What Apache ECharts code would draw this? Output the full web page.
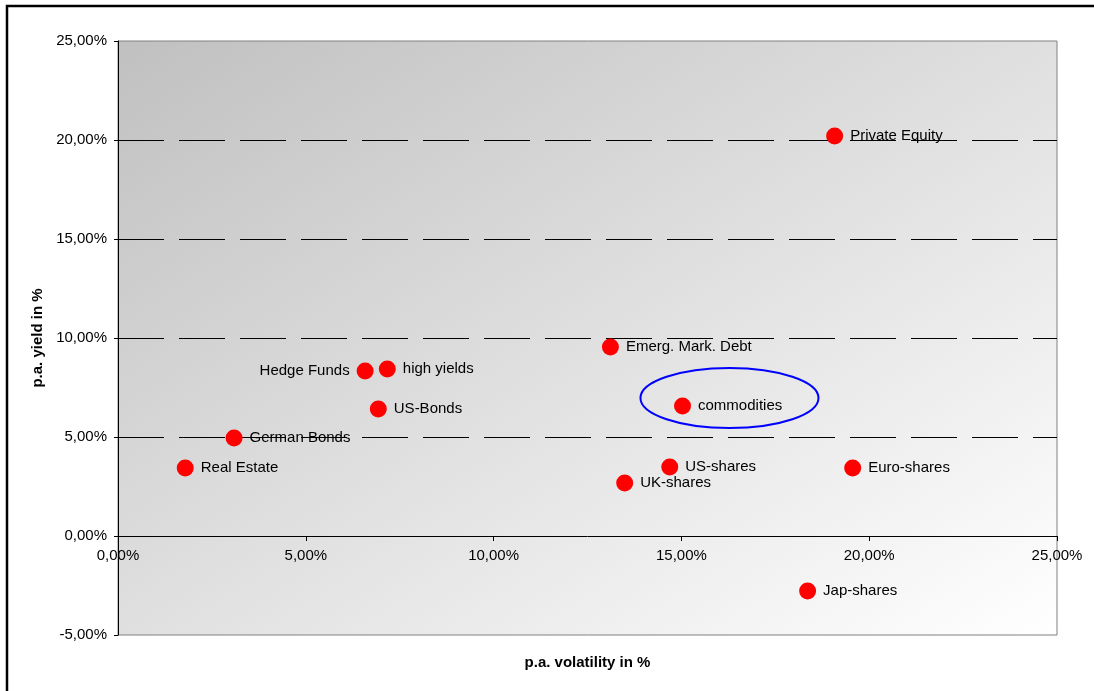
<!DOCTYPE html>
<html>
<head>
<meta charset="utf-8">
<script src="https://cdn.jsdelivr.net/npm/echarts@6/dist/echarts.min.js"></script>
<style>
html,body{margin:0;padding:0;background:#fff;}
#chart{width:1094px;height:691px;}
</style>
</head>
<body>
<div id="chart"></div>
<script>
// Data (percent units)
const names = ['Private Equity','Emerg. Mark. Debt','Hedge Funds','high yields','US-Bonds','commodities','German Bonds','Real Estate','US-shares','UK-shares','Euro-shares','Jap-shares'];
const volatility = [19.08, 13.11, 6.58, 7.17, 6.93, 15.03, 3.09, 1.79, 14.69, 13.49, 19.56, 18.36];
const yields = [20.2, 9.55, 8.33, 8.43, 6.41, 6.57, 4.95, 3.43, 3.48, 2.68, 3.43, -2.78];
const labelLeft = ['Hedge Funds'];
const xTicks = [0, 5, 10, 15, 20, 25];
const yTicks = [-5, 0, 5, 10, 15, 20, 25];
const gridLevels = [5, 10, 15, 20];
// Highlight ellipse around commodities (data units)
const ellipseCenter = [16.28, 6.97];
const ellipseRadius = [2.37, 1.52];

const fmt = v => v.toFixed(2).replace('.', ',') + '%';
const FONT = 'Liberation Sans, Arial, sans-serif';

const W = 1094, H = 691;
const G = { left: 118, top: 41, right: 37, bottom: 56 };
const gw = W - G.left - G.right, gh = H - G.top - G.bottom;
// gradient whose iso-lines run parallel to the anti-diagonal of the plot box
const gx2 = 2 * gh * gh / (gh * gh + gw * gw);
const gy2 = 2 * gw * gw / (gh * gh + gw * gw);

const chart = echarts.init(document.getElementById('chart'));
const points = names.map((n, i) => ({
  name: n,
  value: [volatility[i], yields[i]],
  label: { position: labelLeft.includes(n) ? 'left' : 'right' }
}));

chart.setOption({
  animation: false,
  backgroundColor: '#ffffff',
  grid: {
    left: G.left, top: G.top, right: G.right, bottom: G.bottom,
    containLabel: false,
    outerBoundsMode: 'none',
    show: true,
    borderColor: '#808080',
    borderWidth: 1,
    backgroundColor: {
      type: 'linear', x: 0, y: 0, x2: gx2, y2: gy2,
      colorStops: [
        { offset: 0, color: '#c0c0c0' },
        { offset: 1, color: '#ffffff' }
      ]
    }
  },
  xAxis: {
    type: 'value', min: xTicks[0], max: xTicks[xTicks.length - 1], interval: 5,
    position: 'bottom',
    offset: 0,
    axisLine: { onZero: false, lineStyle: { color: '#000', width: 1 } },
    axisTick: { show: true, length: 5, lineStyle: { color: '#000' } },
    axisLabel: { formatter: fmt, color: '#000', fontSize: 15, fontFamily: FONT, margin: 12 },
    splitLine: { show: false },
    name: 'p.a. volatility in %',
    nameLocation: 'middle',
    nameGap: 119,
    nameTextStyle: { color: '#000', fontSize: 15, fontWeight: 'bold', fontFamily: FONT }
  },
  yAxis: {
    type: 'value', min: yTicks[0], max: yTicks[yTicks.length - 1], interval: 5,
    axisLine: { show: true, onZero: false, lineStyle: { color: '#000', width: 1 } },
    axisTick: { show: true, length: 4, lineStyle: { color: '#000' } },
    axisLabel: { formatter: fmt, color: '#000', fontSize: 15, fontFamily: FONT, margin: 11 },
    splitLine: { show: false },
    name: 'p.a. yield in %',
    nameLocation: 'middle',
    nameGap: 68,
    nameRotate: 90,
    nameTextStyle: { color: '#000', fontSize: 15, fontWeight: 'bold', fontFamily: FONT }
  },
  series: [
    {
      type: 'scatter',
      data: points,
      symbol: 'circle',
      symbolSize: 17,
      itemStyle: { color: '#ff0000', opacity: 1 },
      z: 5,
      label: {
        show: true,
        formatter: p => p.name,
        color: '#000',
        fontSize: 15,
        fontFamily: FONT,
        distance: 7
      },
      markLine: {
        silent: true,
        symbol: 'none',
        label: { show: false },
        lineStyle: { color: '#000', type: [46, 15], width: 1 },
        data: gridLevels.map(v => ({ yAxis: v })),
        z: 1
      }
    }
  ]
});

function finish() {
  // move the x axis (line, ticks, labels) up to the zero line
  const zeroY = chart.convertToPixel({ gridIndex: 0 }, [0, 0])[1];
  const bottomY = chart.convertToPixel({ gridIndex: 0 }, [0, yTicks[0]])[1];
  chart.setOption({ xAxis: { offset: -(bottomY - zeroY) } });

  const c = chart.convertToPixel({ gridIndex: 0 }, ellipseCenter);
  const e = chart.convertToPixel({ gridIndex: 0 }, [ellipseCenter[0] + ellipseRadius[0], ellipseCenter[1] + ellipseRadius[1]]);
  chart.setOption({
    graphic: [
      {
        type: 'ellipse',
        shape: { cx: c[0], cy: c[1], rx: Math.abs(e[0] - c[0]), ry: Math.abs(e[1] - c[1]) },
        style: { fill: null, stroke: '#0000ff', lineWidth: 2 },
        z: 10
      },
      {
        type: 'rect',
        shape: { x: 7, y: 6, width: 1200, height: 800 },
        style: { fill: null, stroke: '#000', lineWidth: 2.5 },
        z: 10
      }
    ]
  });
}
finish();
</script>
</body>
</html>
